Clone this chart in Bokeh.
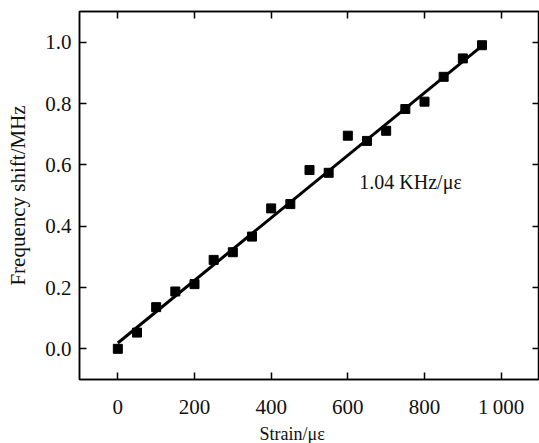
from bokeh.plotting import figure
from bokeh.models import LinearAxis, FixedTicker, Label, Range1d, CustomLabelingPolicy, Title
from bokeh.embed import file_html
from bokeh.resources import INLINE

# Data
strain = [0, 50, 100, 150, 200, 250, 300, 350, 400, 450,
          500, 550, 600, 650, 700, 750, 800, 850, 900, 950]
shift = [0.000, 0.053, 0.136, 0.187, 0.211, 0.290, 0.315, 0.366, 0.458, 0.472,
         0.583, 0.574, 0.695, 0.678, 0.711, 0.782, 0.806, 0.887, 0.947, 0.990]
fit_x = [0, 950]
fit_y = [0.019, 0.988]
x_ticks = [0, 200, 400, 600, 800, 1000]
x_tick_labels = ["0", "200", "400", "600", "800", "1\u2009000"]
y_ticks = [0.0, 0.2, 0.4, 0.6, 0.8, 1.0]
y_tick_labels = ["0.0", "0.2", "0.4", "0.6", "0.8", "1.0"]
annotation = "1.04 KHz/\u03bc\u03b5"
x_title = "Strain/\u03bc\u03b5"
y_title = "Frequency shift/MHz"

FONT = "Liberation Serif"
INK = "#111111"

p = figure(width=539, height=443, output_backend="svg", toolbar_location=None,
           x_range=Range1d(-100, 1100), y_range=Range1d(-0.1, 1.1),
           min_border_left=79, min_border_right=0, min_border_top=11, min_border_bottom=63)
p.background_fill_color = "white"
p.border_fill_color = "white"
p.grid.visible = False
p.outline_line_color = "black"
p.outline_line_width = 1.5

hide_all = CustomLabelingPolicy(code="""
const n = indices.size;
for (let i = 0; i < n; i++) { indices.unset(i); }
return indices;
""")

def style_axis(ax):
    ax.axis_line_color = "black"
    ax.axis_line_width = 1.5
    ax.major_tick_in = 7
    ax.major_tick_out = 0
    ax.major_tick_line_width = 1.5
    ax.major_tick_line_color = "black"
    ax.minor_tick_line_color = None
    ax.major_label_text_font = FONT
    ax.major_label_text_font_size = "21px"
    ax.major_label_text_color = INK
    ax.axis_label_text_font = FONT
    ax.axis_label_text_font_style = "normal"
    ax.axis_label_text_color = INK

xa = p.xaxis[0]
ya = p.yaxis[0]
xa.ticker = FixedTicker(ticks=x_ticks)
ya.ticker = FixedTicker(ticks=y_ticks)
xa.major_label_overrides = {t: l for t, l in zip(x_ticks, x_tick_labels)}
ya.major_label_overrides = {t: l for t, l in zip(y_ticks, y_tick_labels)}
style_axis(xa)
style_axis(ya)
ya.axis_label = y_title
ya.axis_label_text_font_size = "21px"
xa.major_label_standoff = 15
xa.axis_label_standoff = 0
ya.major_label_standoff = 8
ya.axis_label_standoff = 12

top = LinearAxis(ticker=FixedTicker(ticks=x_ticks))
right = LinearAxis(ticker=FixedTicker(ticks=y_ticks))
for ax, ticks in ((top, x_ticks), (right, y_ticks)):
    style_axis(ax)
    ax.major_label_overrides = {t: "" for t in ticks}
    ax.major_label_policy = hide_all
    ax.major_label_standoff = 0
    ax.axis_label_standoff = 0
    ax.major_label_text_font_size = "1px"
p.add_layout(top, "above")
p.add_layout(right, "right")

p.line(fit_x, fit_y, line_color="black", line_width=3)
p.scatter(strain, shift, marker="square", size=9, color="black")

p.add_layout(Label(x=630, y=0.545, text=annotation, text_font=FONT,
                   text_font_size="20px", text_color=INK,
                   text_baseline="middle", text_align="left"))

# x-axis title, placed slightly left of the frame centre as in the reference
p.add_layout(Title(text=x_title, align="left", offset=180, standoff=0,
                   text_font=FONT, text_font_size="18px", text_color=INK,
                   text_font_style="normal"), "below")

open("out.html", "w").write(file_html(p, INLINE))
